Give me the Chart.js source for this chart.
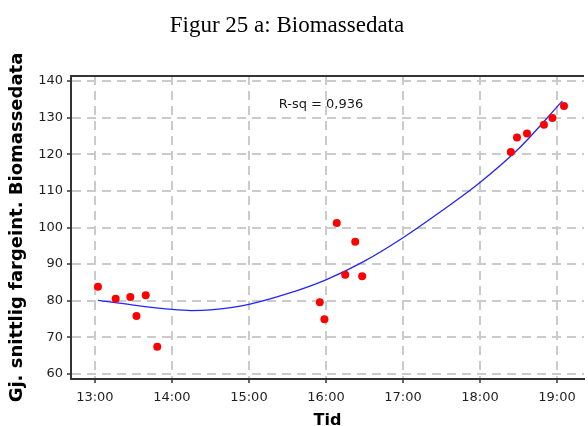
<!DOCTYPE html>
<html>
<head>
<meta charset="utf-8">
<script src="https://cdn.jsdelivr.net/npm/chart.js@4.4.1/dist/chart.umd.min.js"></script>
<style>
  html, body { margin: 0; padding: 0; background: #fff; }
  #wrap { width: 588px; height: 426px; }
</style>
</head>
<body>
<div id="wrap"><canvas id="biomasse" width="588" height="426"></canvas></div>
<script>
// sampling times (decimal hours) and mean colour intensity per sample
const sampleTimes = [13.04, 13.27, 13.46, 13.54, 13.66, 13.81, 15.92, 15.98, 16.14, 16.25, 16.38, 16.47, 18.40, 18.48, 18.61, 18.83, 18.94, 19.09];
const sampleValues = [83.8, 80.5, 81.0, 75.8, 81.5, 67.4, 79.6, 74.9, 101.2, 87.1, 96.1, 86.7, 120.6, 124.6, 125.7, 128.1, 129.9, 133.2];

// fitted trend curve
const fitTimes = [13.04, 13.5, 14, 14.25, 14.5, 15, 15.5, 16, 16.5, 17, 17.5, 18, 18.5, 19.07];
const fitValues = [80.1, 78.8, 77.6, 77.3, 77.5, 79.0, 81.9, 85.7, 90.8, 97.2, 104.5, 112.3, 121.5, 134.6];

const hourTicks = [13, 14, 15, 16, 17, 18, 19];
const valueTicks = [60, 70, 80, 90, 100, 110, 120, 130, 140];

const chartTitle = "Figur 25 a: Biomassedata";
const fitLabel = "R-sq = 0,936";
const xTitle = "Tid";
const yTitle = "Gj. snittlig fargeint. Biomassedata";

const toPoints = (xs, ys) => xs.map((x, i) => ({ x: x, y: ys[i] }));

const axisColor = "#333333";
const gridColor = "#cbcbcb";
const tickFont = { family: "DejaVu Sans", size: 13 };

// figure caption above the plot, the top frame line and the R-sq note
const decorations = {
  id: "decorations",
  afterDraw(chart) {
    const ctx = chart.ctx;
    const area = chart.chartArea;
    ctx.save();
    ctx.fillStyle = "#000";
    ctx.font = "23px 'Liberation Serif'";
    ctx.textAlign = "center";
    ctx.textBaseline = "middle";
    ctx.fillText(chartTitle, chart.width / 2 - 7, 26);

    ctx.font = "13px 'DejaVu Sans'";
    ctx.fillStyle = "#1a1a1a";
    ctx.fillText(fitLabel, area.left + 250, area.top + 29);

    ctx.strokeStyle = axisColor;
    ctx.lineWidth = 2;
    ctx.beginPath();
    ctx.moveTo(area.left - 1, area.top);
    ctx.lineTo(area.right, area.top);
    ctx.stroke();
    ctx.restore();
  }
};

new Chart(document.getElementById("biomasse"), {
  type: "scatter",
  data: {
    datasets: [
      {
        label: "Målinger",
        data: toPoints(sampleTimes, sampleValues),
        pointRadius: 4,
        pointHoverRadius: 4,
        pointBackgroundColor: "#ff0000",
        pointBorderColor: "#ff0000",
        pointBorderWidth: 0
      },
      {
        label: "Tilpasning",
        data: toPoints(fitTimes, fitValues),
        showLine: true,
        borderColor: "#2323ff",
        borderWidth: 1.3,
        pointRadius: 0,
        cubicInterpolationMode: "monotone"
      }
    ]
  },
  options: {
    responsive: false,
    animation: false,
    devicePixelRatio: 1,
    layout: { padding: { top: 76, left: 0, right: 0, bottom: 0 } },
    plugins: {
      legend: { display: false },
      tooltip: { enabled: false }
    },
    scales: {
      x: {
        type: "linear",
        min: 12.69,
        max: 19.35,
        afterBuildTicks: (scale) => {
          scale.ticks = hourTicks.map((v) => ({ value: v }));
        },
        afterFit: (scale) => {
          scale.height = 47;
        },
        ticks: {
          callback: (v) => v + ":00",
          font: tickFont,
          color: "#1f1f1f",
          padding: 7,
          maxRotation: 0
        },
        grid: {
          color: gridColor,
          lineWidth: 2,
          tickColor: axisColor,
          tickLength: 4,
          tickWidth: 1.5,
          tickBorderDash: []
        },
        border: { color: axisColor, width: 2, dash: [9, 6] },
        title: {
          display: true,
          text: xTitle,
          color: "#000",
          font: { family: "DejaVu Sans", size: 16, weight: "bold", lineHeight: 0.7 },
          padding: { top: 0, bottom: 0 }
        }
      },
      y: {
        type: "linear",
        min: 58.6,
        max: 141.4,
        afterBuildTicks: (scale) => {
          scale.ticks = valueTicks.map((v) => ({ value: v }));
        },
        afterFit: (scale) => {
          scale.width = 71;
        },
        ticks: {
          font: tickFont,
          color: "#1f1f1f",
          padding: 4
        },
        grid: {
          color: gridColor,
          lineWidth: 2,
          tickColor: axisColor,
          tickLength: 4,
          tickWidth: 1.5,
          tickBorderDash: []
        },
        border: { color: axisColor, width: 2, dash: [9, 6] },
        title: {
          display: true,
          text: yTitle,
          color: "#000",
          font: { family: "DejaVu Sans", size: 18, weight: "bold" },
          padding: { top: 7, bottom: 0 }
        }
      }
    }
  },
  plugins: [decorations]
});
</script>
</body>
</html>
